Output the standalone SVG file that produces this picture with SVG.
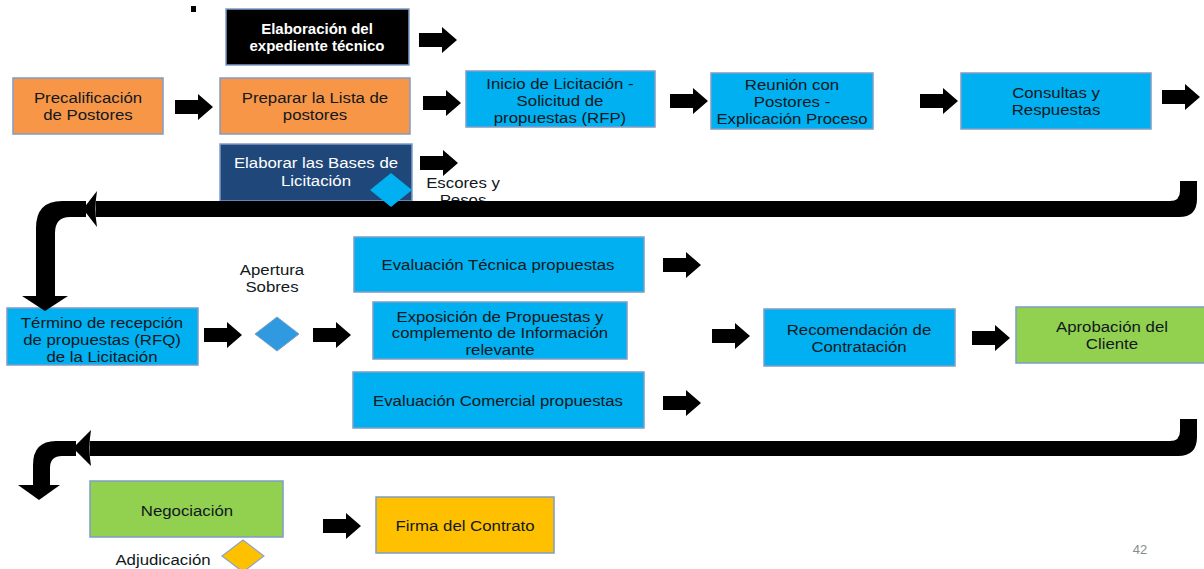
<svg xmlns="http://www.w3.org/2000/svg" xmlns:xlink="http://www.w3.org/1999/xlink" width="1204" height="569" viewBox="0 0 1204 569">
  <style>
    text { font-family: "Liberation Sans", Arial, sans-serif; font-size: 15px; fill: #101820; text-anchor: middle; }
    .s { transform-box: fill-box; transform-origin: center; transform: scaleX(1.12); }
    .w { fill: #ffffff; }
    .b { font-weight: bold; }
    .box { stroke: #7f9cc6; stroke-width: 1.5; }
    .cyan { fill: #00b0f0; }
    .orange { fill: #f79646; }
    .navy { fill: #1f477a; }
    .green { fill: #92d050; }
    .gold { fill: #ffc000; }
    .blk { fill: #000000; }
    .pg { fill: #8a8a8a; font-size: 13px; }
  </style>
  <defs>
    <!-- block arrow, origin at left end of the shaft, pointing right -->
    <path id="blk" d="M0,-7 H23 V-13 L38,0 L23,13 V7 H0 Z"/>
  </defs>

  <rect width="1204" height="569" fill="#ffffff"/>
  <rect x="191" y="6" width="5" height="6" fill="#000"/>

  <!-- labels placed under the return connectors -->
  <g id="label-escores">
    <text class="s" x="463" y="188">Escores y</text>
    <text class="s" x="463" y="205">Pesos</text>
  </g>

  <!-- row 1 -->
  <g id="expediente">
    <rect class="box" x="226" y="9" width="183" height="56" fill="#000"/>
    <text class="w b" x="317" y="34">Elaboración del</text>
    <text class="w b" x="317" y="51">expediente técnico</text>
  </g>
  <g id="precalificacion">
    <rect class="box orange" x="13" y="78" width="150" height="56"/>
    <text class="s" x="88" y="103">Precalificación</text>
    <text class="s" x="88" y="120">de Postores</text>
  </g>
  <g id="lista-postores">
    <rect class="box orange" x="220" y="78" width="190" height="56"/>
    <text class="s" x="315" y="103">Preparar la Lista de</text>
    <text class="s" x="315" y="120">postores</text>
  </g>
  <g id="bases">
    <rect class="box navy" x="220" y="144" width="192" height="57"/>
    <text class="s w" x="316" y="168">Elaborar las Bases de</text>
    <text class="s w" x="316" y="186">Licitación</text>
  </g>
  <g id="inicio">
    <rect class="box cyan" x="466" y="71" width="189" height="56"/>
    <text class="s" x="560" y="89">Inicio de Licitación -</text>
    <text class="s" x="560" y="106">Solicitud de</text>
    <text class="s" x="560" y="123">propuestas (RFP)</text>
  </g>
  <g id="reunion">
    <rect class="box cyan" x="711" y="73" width="162" height="56"/>
    <text class="s" x="792" y="90">Reunión con</text>
    <text class="s" x="792" y="107">Postores -</text>
    <text class="s" x="792" y="124">Explicación Proceso</text>
  </g>
  <g id="consultas">
    <rect class="box cyan" x="961" y="73" width="190" height="56"/>
    <text class="s" x="1056" y="98">Consultas y</text>
    <text class="s" x="1056" y="115">Respuestas</text>
  </g>

  <!-- row 2 -->
  <g id="termino">
    <rect class="box cyan" x="7" y="308" width="191" height="57"/>
    <text class="s" x="102" y="328">Término de recepción</text>
    <text class="s" x="102" y="345">de propuestas (RFQ)</text>
    <text class="s" x="102" y="362">de la Licitación</text>
  </g>
  <g id="apertura">
    <text class="s" x="272" y="275">Apertura</text>
    <text class="s" x="272" y="292">Sobres</text>
    <polygon points="277,317 299,334 277,351 255,334" fill="#2f9ae0" stroke="#7f9cc6" stroke-width="1"/>
  </g>
  <g id="eval-tecnica">
    <rect class="box cyan" x="354" y="237" width="290" height="55"/>
    <text class="s" x="498" y="270">Evaluación Técnica propuestas</text>
  </g>
  <g id="exposicion">
    <rect class="box cyan" x="373" y="302" width="254" height="57"/>
    <text class="s" x="500" y="322">Exposición de Propuestas y</text>
    <text class="s" x="500" y="338">complemento de Información</text>
    <text class="s" x="500" y="355">relevante</text>
  </g>
  <g id="eval-comercial">
    <rect class="box cyan" x="353" y="372" width="291" height="56"/>
    <text class="s" x="498" y="406">Evaluación Comercial propuestas</text>
  </g>
  <g id="recomendacion">
    <rect class="box cyan" x="764" y="309" width="191" height="57"/>
    <text class="s" x="859" y="335">Recomendación de</text>
    <text class="s" x="859" y="352">Contratación</text>
  </g>
  <g id="aprobacion">
    <rect class="box green" x="1016" y="307" width="192" height="56"/>
    <text class="s" x="1112" y="332">Aprobación del</text>
    <text class="s" x="1112" y="349">Cliente</text>
  </g>

  <!-- row 3 -->
  <g id="negociacion">
    <rect class="box green" x="90" y="481" width="193" height="56"/>
    <text class="s" x="187" y="516">Negociación</text>
  </g>
  <g id="adjudicacion">
    <text class="s" x="163" y="565">Adjudicación</text>
    <polygon points="243,540 264,556 243,572 222,556" fill="#ffc000" stroke="#8aa4c8" stroke-width="1.2"/>
  </g>
  <g id="firma">
    <rect class="box gold" x="376" y="497" width="178" height="56"/>
    <text class="s" x="465" y="531">Firma del Contrato</text>
  </g>

  <!-- connectors -->
  <g id="connectors" class="blk">
    <use href="#blk" transform="translate(419,40)"/>
    <use href="#blk" transform="translate(175,107)"/>
    <use href="#blk" transform="translate(423,103)"/>
    <use href="#blk" transform="translate(670,101)"/>
    <use href="#blk" transform="translate(920,101)"/>
    <use href="#blk" transform="translate(1162,97)"/>
    <use href="#blk" transform="translate(420,163)"/>

    <use href="#blk" transform="translate(204,335)"/>
    <use href="#blk" transform="translate(313,335)"/>
    <use href="#blk" transform="translate(663,265)"/>
    <use href="#blk" transform="translate(712,336)"/>
    <use href="#blk" transform="translate(663,403)"/>
    <use href="#blk" transform="translate(972,338)"/>
    <use href="#blk" transform="translate(323,526)"/>

    <!-- return path from row 1 to row 2 -->
    <path d="M1180,181 H1197 V199 Q1197,217 1179,217 H96 V201 H1170 Q1180,201 1180,191 Z"/>
    <path d="M83,209 L97,191 Q94,209 97,227 Z"/>
    <path d="M86,201 H62 Q36,201 36,228 V297 H55 V233 Q55,217 70,217 H86 Z"/>
    <polygon points="22,296 68,296 45,311"/>

    <!-- return path from row 2 to row 3 -->
    <path d="M1180,419 H1197 V437 Q1197,456 1178,456 H90 V441 H1170 Q1180,441 1180,431 Z"/>
    <path d="M73,448 L91,430 Q88,448 91,466 Z"/>
    <path d="M76,441 H56 Q33,441 33,465 V485 H50 V468 Q50,456 62,456 H76 Z"/>
    <polygon points="18,485 60,485 39,500"/>
  </g>

  <!-- marker drawn over the return path, as in the layout -->
  <polygon id="bases-marker" points="391,173 412,190 391,207 370,190" fill="#00b0f0"/>

  <text class="pg" x="1140" y="554">42</text>
</svg>
